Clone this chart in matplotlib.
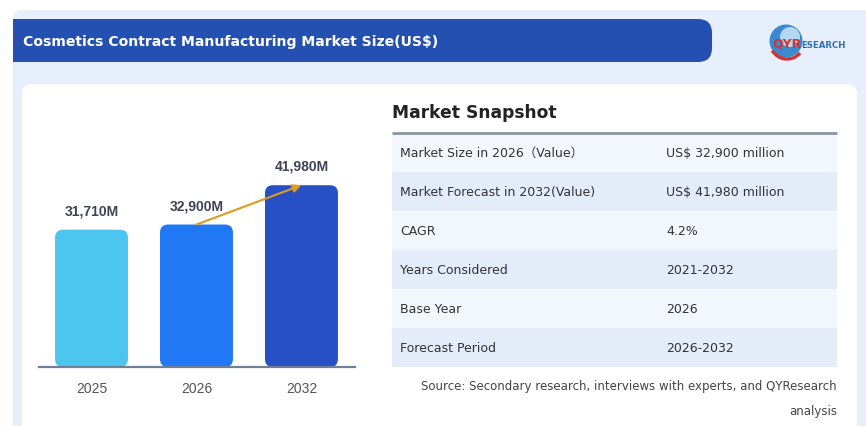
import matplotlib
matplotlib.use("Agg")
import matplotlib.pyplot as plt
from matplotlib.patches import FancyBboxPatch, Rectangle, Circle, Arc
import numpy as np

# ---------------- data ----------------
years = ["2025", "2026", "2032"]
values = [31710, 32900, 41980]
value_labels = ["31,710M", "32,900M", "41,980M"]
bar_colors = ["#4cc6ef", "#2178f4", "#2650c4"]

title = "Cosmetics Contract Manufacturing Market Size(US$)"
snapshot_title = "Market Snapshot"
row_labels = ["Market Size in 2026\uff08Value\uff09", "Market Forecast in 2032(Value)", "CAGR",
              "Years Considered", "Base Year", "Forecast Period"]
row_values = ["US$ 32,900 million", "US$ 41,980 million", "4.2%", "2021-2032", "2026", "2026-2032"]
source_lines = ["Source: Secondary research, interviews with experts, and QYResearch", "analysis"]

FONT = ["DejaVu Sans", "Noto Sans CJK SC"]

W, H = 866, 427
fig = plt.figure(figsize=(W / 100, H / 100), dpi=100)
fig.patch.set_facecolor("white")

bg = fig.add_axes([0, 0, 1, 1])
bg.set_xlim(0, W)
bg.set_ylim(H, 0)
bg.axis("off")
bg.set_zorder(0)

# outer light panel
bg.add_patch(FancyBboxPatch((13, 11), W + 40, H + 40, boxstyle="round,pad=0,rounding_size=9",
                            fc="#e7effc", ec="none"))
# title bar
bg.add_patch(FancyBboxPatch((13, 20), 699, 43, boxstyle="round,pad=0,rounding_size=14",
                            fc="#2350b1", ec="none"))
bg.add_patch(Rectangle((13, 20), 20, 43, fc="#2350b1", ec="none"))
bg.text(23, 42, title, color="white", fontsize=10.1, fontweight="bold", family=FONT,
        ha="left", va="center")

# logo
cx, cy = 786, 42
bg.add_patch(Circle((cx, cy), 16.5, fc="#3a8ad2", ec="none"))
bg.add_patch(Circle((cx + 4, cy - 4), 10, fc="#bfe0f6", ec="none", alpha=0.9))
bg.add_patch(Arc((cx + 1, cy + 1), 34, 34, theta1=40, theta2=150, color="#d9322b", lw=2.4))
bg.text(772, 44, "QYR", color="#d9322b", fontsize=9, fontweight="bold", family="DejaVu Sans",
        ha="left", va="center")
bg.text(801, 45, "ESEARCH", color="#2f6fb6", fontsize=6.2, fontweight="bold", family="DejaVu Sans",
        ha="left", va="center")

# inner white card
bg.add_patch(FancyBboxPatch((22, 85), 835, H, boxstyle="round,pad=0,rounding_size=10",
                            fc="white", ec="none"))

# ---------------- snapshot table ----------------
bg.text(392, 113, snapshot_title, fontsize=12.3, fontweight="bold", color="#222222",
        family=FONT, ha="left", va="center")
tx0, tx1 = 392, 837
ty0, rh = 134, 39
for i, (lab, val) in enumerate(zip(row_labels, row_values)):
    y = ty0 + i * rh
    fc = "#f2f6fd" if i % 2 == 0 else "#e4ecf9"
    bg.add_patch(Rectangle((tx0, y), tx1 - tx0, rh, fc=fc, ec="none"))
    bg.text(400, y + rh / 2, lab, fontsize=9, color="#333333", family=FONT,
            ha="left", va="center")
    bg.text(666, y + rh / 2, val, fontsize=9, color="#333333", family=FONT,
            ha="left", va="center")
bg.plot([tx0, tx1], [ty0, ty0], color="#8a96a6", lw=2, solid_capstyle="butt")
bg.text(tx1, 387, source_lines[0], fontsize=8.5, color="#444444", family=FONT,
        ha="right", va="center")
bg.text(tx1, 412, source_lines[1], fontsize=8.5, color="#444444", family=FONT,
        ha="right", va="center")

# ---------------- bar chart ----------------
ax_left, ax_right = 39, 355
ax_bottom, ax_top = 368, 140
ax = fig.add_axes([ax_left / W, 1 - ax_bottom / H, (ax_right - ax_left) / W, (ax_bottom - ax_top) / H])
ax.set_zorder(1)
ax.patch.set_alpha(0)
x = np.arange(len(years))
ax.set_xlim(-0.5, 2.51)
ax.set_ylim(0, 52650)
bw = 0.695
bars = ax.bar(x, values, width=bw, color=bar_colors)
# replace with rounded bars
xpp = (ax.get_xlim()[1] - ax.get_xlim()[0]) / (ax_right - ax_left)
ypp = (ax.get_ylim()[1] - ax.get_ylim()[0]) / (ax_bottom - ax_top)
for b in bars:
    b.set_visible(False)
    ax.add_patch(FancyBboxPatch((b.get_x(), 0), b.get_width(), b.get_height(),
                                boxstyle=f"round,pad=0,rounding_size={8 * xpp}",
                                mutation_aspect=ypp / xpp, fc=b.get_facecolor(), ec="none"))
for xi, v, lab in zip(x, values, value_labels):
    ax.annotate(lab, (xi, v), xytext=(0, 14), textcoords="offset points", ha="center", va="center",
                fontsize=10, fontweight="bold", color="#3d4456", family="Liberation Sans")
ax.annotate("", xy=(2, values[2]), xytext=(1, values[1]),
            arrowprops=dict(arrowstyle="-|>", color="#e09a1c", lw=1.5, mutation_scale=12,
                            shrinkA=0, shrinkB=0))
for s in ["top", "right", "left"]:
    ax.spines[s].set_visible(False)
ax.spines["bottom"].set_color("#6f8096")
ax.spines["bottom"].set_linewidth(1.6)
ax.set_yticks([])
ax.set_xticks(x)
ax.set_xticklabels(years, fontsize=10, color="#555555", family="Liberation Sans")
ax.tick_params(axis="x", length=0, pad=10)

fig.savefig("out.png", dpi=100, facecolor="white")
